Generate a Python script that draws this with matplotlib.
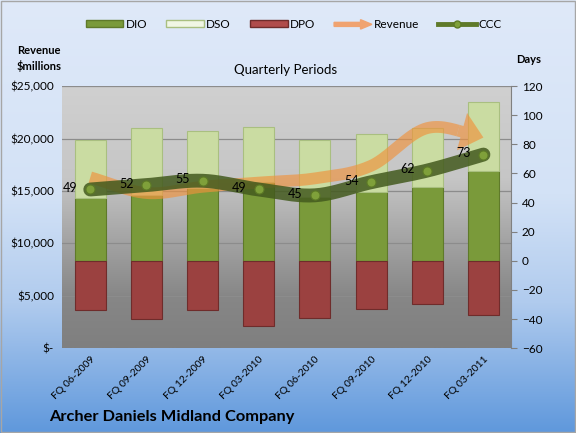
import numpy as np
import matplotlib
matplotlib.use('Agg')
import matplotlib.pyplot as plt
import matplotlib.patches as mpatches
from matplotlib.lines import Line2D
from matplotlib.legend_handler import HandlerPatch
from matplotlib.colors import LinearSegmentedColormap

# data
quarters = ['FQ 06-2009', 'FQ 09-2009', 'FQ 12-2009', 'FQ 03-2010',
            'FQ 06-2010', 'FQ 09-2010', 'FQ 12-2010', 'FQ 03-2011']
dio = [43, 45, 50, 54, 44, 47, 51, 62]
dso = [40, 46, 39, 38, 39, 40, 40, 47]
dpo = [-34, -40, -34, -45, -39, -33, -30, -37]
ccc = [49, 52, 55, 49, 45, 54, 62, 73]
revenue = [16300, 14800, 15400, 15800, 16200, 17400, 21000, 20100]

FONT = ['Lato', 'DejaVu Sans']
plt.rcParams['font.family'] = FONT


def smooth(xs, ys, n=20):
    """Catmull-Rom curve through the points, like Excel's smoothed line."""
    xs = np.asarray(xs, float)
    ys = np.asarray(ys, float)
    px = np.concatenate([[2 * xs[0] - xs[1]], xs, [2 * xs[-1] - xs[-2]]])
    py = np.concatenate([[2 * ys[0] - ys[1]], ys, [2 * ys[-1] - ys[-2]]])
    ox, oy = [], []
    t = np.linspace(0, 1, n, endpoint=False)
    for i in range(1, len(px) - 2):
        for p, o in ((px, ox), (py, oy)):
            p0, p1, p2, p3 = p[i - 1], p[i], p[i + 1], p[i + 2]
            o.extend(0.5 * ((2 * p1) + (-p0 + p2) * t
                            + (2 * p0 - 5 * p1 + 4 * p2 - p3) * t ** 2
                            + (-p0 + 3 * p1 - 3 * p2 + p3) * t ** 3))
    ox.append(xs[-1])
    oy.append(ys[-1])
    return np.array(ox), np.array(oy)


fig = plt.figure(figsize=(5.76, 4.33), dpi=100)

# figure background gradient
bg = fig.add_axes([0, 0, 1, 1], zorder=-10)
bg_cmap = LinearSegmentedColormap.from_list(
    'bg', [(0, '#dfe9f9'), (0.45, '#d3e2f6'), (0.7, '#b0cbee'), (1, '#5f98dc')])
bg.imshow(np.linspace(0, 1, 256).reshape(-1, 1), aspect='auto', cmap=bg_cmap,
          extent=[0, 1, 0, 1])
bg.add_patch(mpatches.Rectangle((0.002, 0.003), 0.996, 0.994, fill=False,
                                edgecolor='#a6a6a6', lw=1, transform=bg.transAxes))
bg.set_axis_off()

rect = [0.108, 0.196, 0.780, 0.605]
ax = fig.add_axes(rect)          # bars, days scale
x = np.arange(len(quarters))

# plot area gradient
pa_cmap = LinearSegmentedColormap.from_list(
    'pa', [(0, '#d0d0d0'), (0.35, '#c6c6c6'), (0.6, '#a2a2a2'), (0.8, '#878787'), (1, '#7f7f7f')])
ax.imshow(np.linspace(0, 1, 256).reshape(-1, 1), aspect='auto', cmap=pa_cmap,
          extent=[-0.5, 7.5, -60, 120], zorder=0)

w = 0.55
ax.bar(x, dio, w, color='#7a9a3a', edgecolor='#5f7a2a', lw=0.8, zorder=2)
ax.bar(x, dso, w, bottom=dio, color='#cadca2', edgecolor='#a9bf80', lw=0.8, zorder=2)
ax.bar(x, dpo, w, color='#9b4140', edgecolor='#6f2c2b', lw=0.8, zorder=2)

ax.set_xlim(-0.5, 7.5)
ax.set_ylim(-60, 120)
ax.set_xticks(x)
ax.set_xticklabels(quarters, rotation=45, ha='right', rotation_mode='anchor', fontsize=7.5)
ax.tick_params(axis='x', length=0, pad=5)
for s in ['top', 'left', 'bottom']:
    ax.spines[s].set_visible(False)
ax.spines['right'].set_color('#808080')

# revenue, dollar scale
axr = ax.twinx()
axr.set_zorder(ax.get_zorder() + 1)
axr.patch.set_visible(False)
axr.set_ylim(0, 25000)
axr.set_yticks(range(0, 25001, 5000))
axr.set_yticklabels(['$-'] + [f'${v:,}' for v in range(5000, 25001, 5000)])
axr.yaxis.tick_left()
axr.tick_params(axis='y', labelsize=8.5, length=0, pad=6)
for s in axr.spines.values():
    s.set_visible(False)
for v in range(5000, 25001, 5000):
    ax.axhline(-60 + v / 25000 * 180, color='#8c8c8c', lw=0.9, zorder=1)

rx, ry = smooth(x, revenue)
cut = len(rx) - 9
axr.plot(rx[:cut], ry[:cut], color='#f0923c', lw=8.5, alpha=0.65,
         solid_capstyle='butt', zorder=3)
axr.annotate('', xy=(rx[-1], ry[-1]), xytext=(rx[cut - 1], ry[cut - 1]),
             arrowprops=dict(arrowstyle='simple,head_length=1.6,head_width=2.8,tail_width=0.85',
                             color='#f0923c', alpha=0.65, lw=0, shrinkA=0, shrinkB=0),
             zorder=3)

# CCC, days scale again, on top
axc = ax.twinx()
axc.set_zorder(axr.get_zorder() + 1)
axc.patch.set_visible(False)
axc.set_ylim(-60, 120)
axc.set_yticks([])
for s in axc.spines.values():
    s.set_visible(False)
cx, cy = smooth(x, ccc)
axc.plot(cx, cy, color='#435a1e', lw=10, alpha=0.85, solid_capstyle='round', zorder=4)
axc.plot(x, ccc, 'o', color='#7fa03a', markeredgecolor='#5d7a26', ms=6.5, mew=0.8, zorder=5)
for xi, v in zip(x, ccc):
    axc.annotate(str(v), (xi, v), xytext=(-9, 1), textcoords='offset points',
                 ha='right', va='center', fontsize=9, color='black', zorder=6)

# days ticks on the right (twinx moved them to the left)
ax.yaxis.tick_right()
ax.set_yticks(range(-60, 121, 20))
ax.tick_params(axis='y', labelsize=8.5, length=4, color='#808080', direction='out',
               left=False, labelleft=False, right=True, labelright=True)

# texts
fig.text(0.068, 0.865, 'Revenue\n$millions', ha='center', va='center',
         fontsize=8, fontweight='bold', linespacing=1.4)
fig.text(0.918, 0.862, 'Days', ha='center', va='center', fontsize=8, fontweight='bold')
fig.text(0.495, 0.838, 'Quarterly Periods', ha='center', va='center', fontsize=9.5)
fig.text(0.085, 0.036, 'Archer Daniels Midland Company', ha='left', va='center',
         fontsize=11.8, fontweight='bold')


# legend
def make_arrow(legend, orig_handle, xdescent, ydescent, width, height, fontsize):
    return mpatches.FancyArrow(0, height / 2, width, 0, width=height * 0.6,
                               head_width=height * 1.4, head_length=width * 0.3,
                               length_includes_head=True)


handles = [
    mpatches.Patch(facecolor='#7a9a3a', edgecolor='#5f7a2a'),
    mpatches.Patch(facecolor='#f0f6e4', edgecolor='#a9bf80'),
    mpatches.Patch(facecolor='#b04c4b', edgecolor='#6f2c2b'),
    mpatches.FancyArrow(0, 0, 1, 0, color='#f0a370'),
    Line2D([], [], color='#5f7a2a', lw=3.5, marker='o', ms=5,
           markerfacecolor='#7fa03a', markeredgecolor='#5d7a26'),
]
labels = ['DIO', 'DSO', 'DPO', 'Revenue', 'CCC']
fig.legend(handles, labels, loc='center', bbox_to_anchor=(0.51, 0.944), ncol=5,
           frameon=False, fontsize=8.5, handlelength=3.2, handleheight=0.5,
           handletextpad=0.2, columnspacing=1.6,
           handler_map={mpatches.FancyArrow: HandlerPatch(patch_func=make_arrow)})

fig.savefig('out.png', dpi=100)
